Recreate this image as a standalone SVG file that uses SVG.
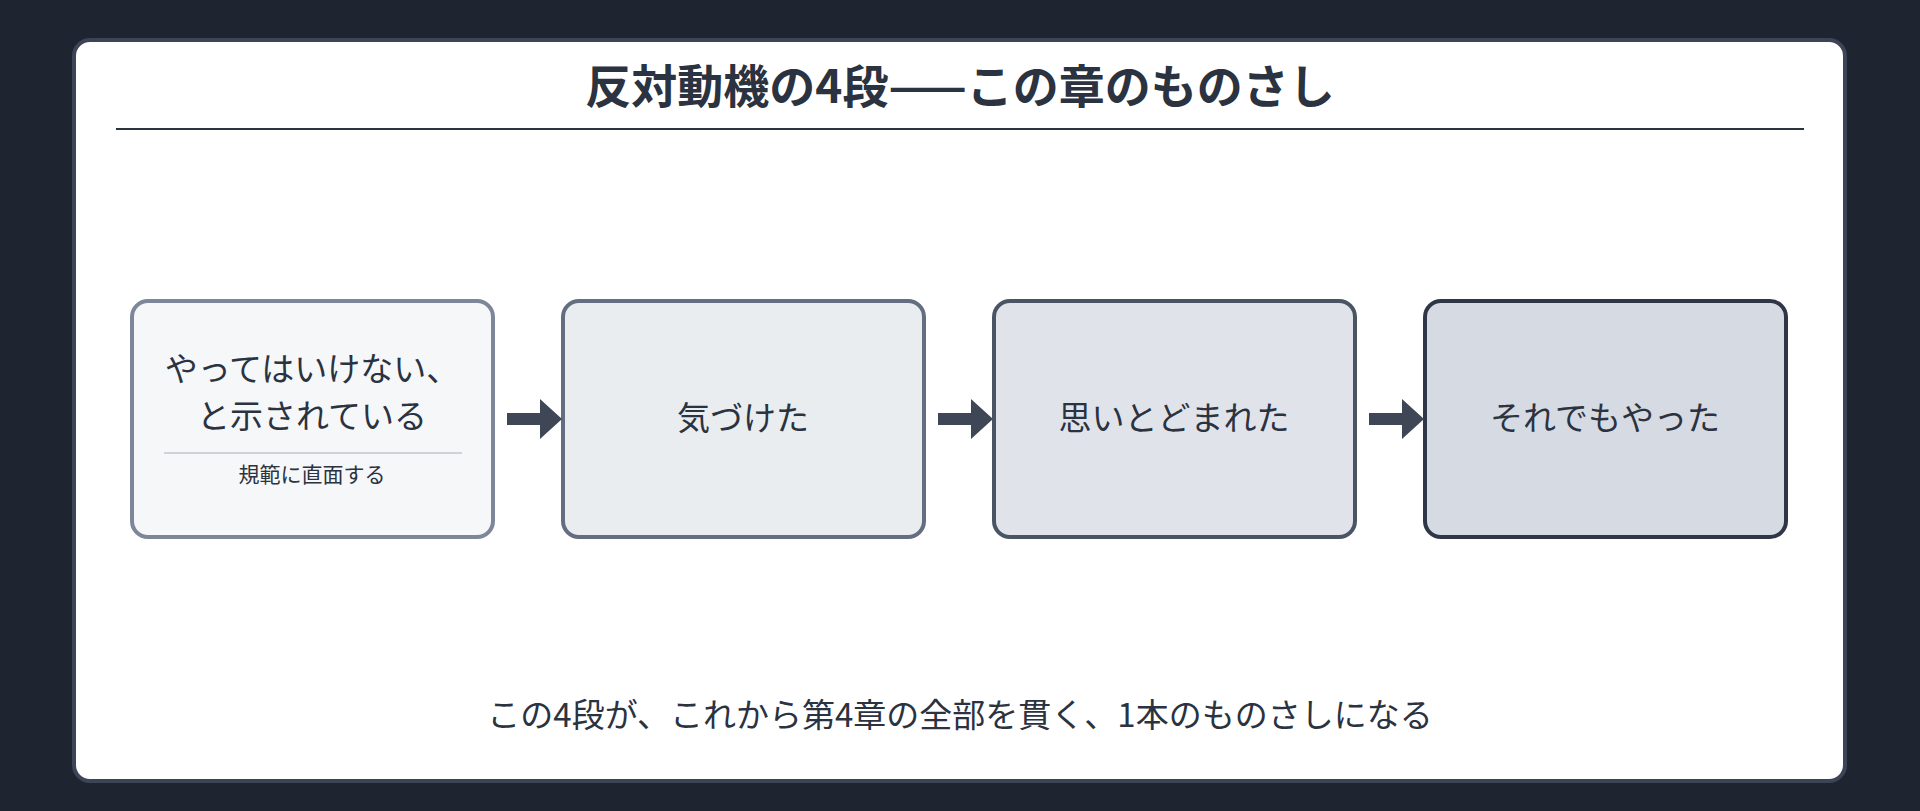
<svg xmlns="http://www.w3.org/2000/svg" width="1920" height="811" viewBox="0 0 1920 811">
<style>
text{font-family:"Noto Sans CJK JP","Noto Sans",sans-serif;fill:#2b3240;text-anchor:middle}
.box{stroke-width:4}
.lbl{font-size:33px}
.arrow{fill:#3f4756}
</style>
<rect width="1920" height="811" fill="#1e2430"/>
<rect x="74" y="40" width="1771" height="741" rx="16" fill="#fff" stroke="#3c4555" stroke-width="4"/>
<text x="960" y="103" font-size="46" font-weight="bold" fill="#3b4352">反対動機の4段——この章のものさし</text>
<line x1="116" y1="129" x2="1804" y2="129" stroke="#2b3240" stroke-width="2"/>
<g id="n1"><rect class="box" x="132" y="301" width="361" height="236" rx="16" fill="#f5f7f9" stroke="#7d8799"/>
<text class="lbl" x="312" y="381">やってはいけない、</text><text class="lbl" x="312" y="428">と示されている</text>
<line x1="164" y1="453" x2="462" y2="453" stroke="#cfd3d9" stroke-width="2"/>
<text x="312" y="482" font-size="21" fill="#4a5260">規範に直面する</text></g>
<g id="n2"><rect class="box" x="563" y="301" width="361" height="236" rx="16" fill="#e9edf0" stroke="#646e80"/>
<text class="lbl" x="743" y="430">気づけた</text></g>
<g id="n3"><rect class="box" x="994" y="301" width="361" height="236" rx="16" fill="#e0e4ea" stroke="#4a5465"/>
<text class="lbl" x="1174" y="430">思いとどまれた</text></g>
<g id="n4"><rect class="box" x="1425" y="301" width="361" height="236" rx="16" fill="#d6dae2" stroke="#2f3746"/>
<text class="lbl" x="1605" y="430">それでもやった</text></g>
<g id="connectors">
<path class="arrow" d="M507 413h33v-14l22 20-22 20v-14h-33z"/>
<path class="arrow" d="M938 413h33v-14l22 20-22 20v-14h-33z"/>
<path class="arrow" d="M1369 413h33v-14l22 20-22 20v-14h-33z"/>
</g>
<text x="960" y="727" font-size="33">この4段が、これから第4章の全部を貫く、1本のものさしになる</text>
</svg>
